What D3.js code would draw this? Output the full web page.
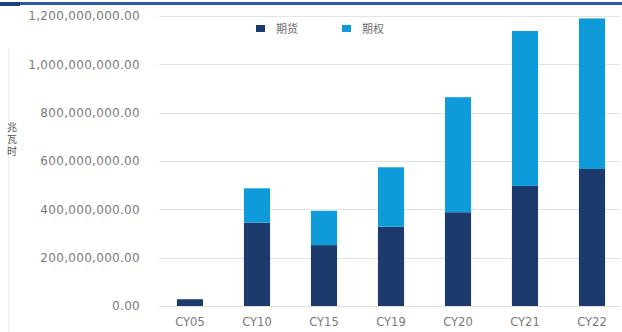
<!DOCTYPE html>
<html><head><meta charset="utf-8">
<script src="https://cdn.jsdelivr.net/npm/d3@7"></script>
<style>body{margin:0;background:#fff}svg{display:block}</style>
</head><body><svg id="c" width="622" height="332"></svg>
<script>
const categories = ["CY05","CY10","CY15","CY19","CY20","CY21","CY22"];
const futures = [28000000, 345000000, 252000000, 328000000, 388000000, 497000000, 567000000];
const options = [0, 142000000, 142000000, 246000000, 476000000, 641000000, 623000000];
const yTicks = [0, 200000000, 400000000, 600000000, 800000000, 1000000000, 1200000000];
const seriesNames = ["期货","期权"];
const yLabel = "兆瓦时";
const colors = ["#1c3a6c","#0f9bd9"];

const svg = d3.select("#c");
const x = d3.scaleBand().domain(categories).range([156.5, 625.5]).paddingInner(0.61).paddingOuter(0.305);
const y = d3.scaleLinear().domain([0, 1200000000]).range([306, 16]);

// top border
svg.append("rect").attr("x",0).attr("y",2).attr("width",622).attr("height",3).attr("fill","#2a5ba6");
svg.append("rect").attr("x",0).attr("y",2).attr("width",20).attr("height",4).attr("fill","#1d3f7a");
svg.append("line").attr("x1",8.5).attr("x2",8.5).attr("y1",48).attr("y2",332).attr("stroke","#efefef");

// grid
const fmt = d3.format(",.2f");
svg.append("g").selectAll("line").data(yTicks).join("line")
  .attr("x1",159).attr("x2",620).attr("y1",d=>Math.round(y(d))+0.5).attr("y2",d=>Math.round(y(d))+0.5)
  .attr("stroke",(d)=>d===0?"#e6ded2":"#e3e3e3").attr("stroke-width",1);

const yAxis = d3.axisLeft(y).tickValues(yTicks).tickFormat(fmt).tickSize(0).tickPadding(0);
const ga = svg.append("g").attr("transform","translate(140,0)").call(yAxis);
ga.select(".domain").remove();
ga.selectAll("text").attr("font-family","DejaVu Sans").attr("font-size",12).attr("letter-spacing",0.3).attr("fill","#7a7a7a");

const xAxis = d3.axisBottom(x).tickSize(0).tickPadding(0);
const gx = svg.append("g").attr("transform","translate(0,318)").call(xAxis);
gx.select(".domain").remove();
gx.selectAll("text").attr("font-family","DejaVu Sans").attr("font-size",11.5).attr("fill","#7a7a7a");

// stacked bars
const rows = categories.map((c,i)=>({cat:c, f:futures[i], o:options[i]}));
const stack = d3.stack().keys(["f","o"])(rows);
svg.append("g").selectAll("g").data(stack).join("g").attr("fill",(d,i)=>colors[i])
  .selectAll("rect").data(d=>d).join("rect")
  .attr("x",d=>x(d.data.cat)).attr("width",x.bandwidth())
  .attr("y",d=>y(d[1])).attr("height",d=>y(d[0])-y(d[1]));

// legend
const lg = svg.append("g");
const lx = [256, 342];
seriesNames.forEach((n,i)=>{
  lg.append("rect").attr("x",lx[i]).attr("y",25).attr("width",9).attr("height",7).attr("fill",colors[i]);
  lg.append("text").attr("x",lx[i]+20).attr("y",33).text(n)
    .attr("font-family","Noto Sans CJK SC").attr("font-size",11).attr("fill","#6e6e6e");
});

// y label vertical
svg.append("text").attr("x",12).attr("y",122)
  .style("writing-mode","vertical-rl").attr("letter-spacing",2)
  .attr("font-family","Noto Sans CJK SC").attr("font-size",10).attr("fill","#555").text(yLabel);
</script></body></html>
